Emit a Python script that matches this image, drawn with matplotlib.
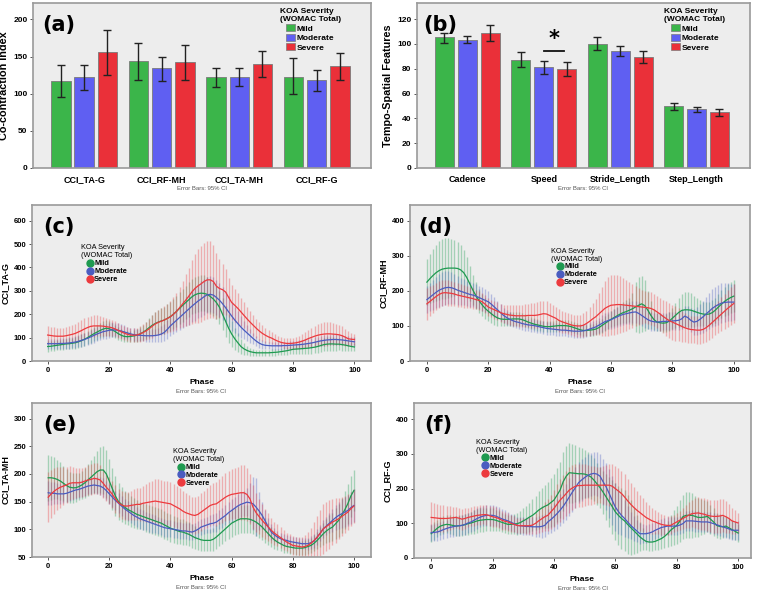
import numpy as np
import matplotlib
matplotlib.use("Agg")
import matplotlib.pyplot as plt
from matplotlib.lines import Line2D
from matplotlib.patches import Patch

plt.rcParams['font.family'] = ['Liberation Sans', 'DejaVu Sans']

# ---------------- data ----------------
groups = ["Mild", "Moderate", "Severe"]

# (a) co-contraction index, means and 95% CI (low, high)
cci_names = ["CCI_TA-G", "CCI_RF-MH", "CCI_TA-MH", "CCI_RF-G"]
cci_mild = [117, 144, 122, 123]
cci_mod = [122, 134, 123, 118]
cci_sev = [156, 142, 140, 137]
cci_mild_lo = [95, 119, 109, 99]
cci_mild_hi = [138, 168, 134, 148]
cci_mod_lo = [105, 117, 111, 104]
cci_mod_hi = [139, 150, 134, 132]
cci_sev_lo = [125, 118, 122, 119]
cci_sev_hi = [186, 165, 157, 155]

# (b) tempo-spatial features
ts_names = ["Cadence", "Speed", "Stride_Length", "Step_Length"]
ts_mild = [105.2, 87.4, 100.0, 49.6]
ts_mod = [103.3, 81.4, 94.1, 47.2]
ts_sev = [108.7, 79.6, 89.5, 44.8]
ts_mild_lo = [100.9, 81.2, 94.9, 46.9]
ts_mild_hi = [109.2, 93.6, 105.2, 52.6]
ts_mod_lo = [100.6, 75.8, 90.1, 45.0]
ts_mod_hi = [106.3, 86.6, 98.2, 49.4]
ts_sev_lo = [102.5, 74.2, 84.7, 42.1]
ts_sev_hi = [114.9, 85.2, 94.4, 47.2]

phase = list(range(101))

# (c) CCI_TA-G over gait phase: mean and 95% CI half-width
tag_mild = [62, 63, 65, 67, 69, 71, 73, 74, 76, 78,
            82, 87, 93, 100, 108, 116, 123, 130, 136, 140,
            138, 133, 126, 117, 110, 105, 104, 105, 107, 110,
            115, 122, 131, 142, 152, 160, 166, 171, 175, 182,
            190, 200, 212, 225, 238, 250, 262, 274, 283, 288,
            290, 289, 285, 276, 265, 250, 230, 200, 170, 140,
            115, 95, 78, 62, 52, 45, 40, 37, 35, 35,
            35, 35, 35, 36, 37, 38, 40, 42, 44, 47,
            50, 51, 52, 53, 54, 55, 57, 59, 62, 66,
            70, 72, 73, 73, 72, 72, 70, 68, 65, 62, 60]
tag_mild_ci = [22, 22, 22, 22, 22, 23, 23, 24, 24, 25,
               26, 27, 28, 29, 30, 31, 32, 33, 34, 34,
               33, 31, 29, 27, 25, 24, 24, 25, 26, 28,
               30, 33, 36, 40, 44, 48, 52, 55, 58, 60,
               62, 64, 66, 68, 70, 72, 74, 75, 76, 77,
               77, 77, 76, 75, 74, 72, 70, 68, 66, 62,
               55, 48, 40, 32, 25, 20, 17, 15, 14, 14,
               14, 14, 14, 14, 14, 14, 15, 16, 17, 18,
               19, 20, 21, 22, 23, 24, 25, 26, 27, 28,
               29, 29, 29, 29, 28, 27, 26, 24, 22, 20, 18]
tag_mod = [74, 74, 74, 74, 75, 75, 76, 77, 79, 81,
           84, 88, 92, 97, 103, 109, 115, 120, 125, 128,
           131, 133, 133, 131, 128, 124, 120, 116, 113, 111,
           110, 109, 108, 108, 108, 109, 111, 115, 122, 135,
           150, 162, 174, 186, 198, 210, 222, 234, 245, 256,
           265, 275, 283, 285, 282, 272, 260, 245, 228, 210,
           192, 175, 160, 145, 132, 120, 108, 96, 85, 76,
           70, 67, 66, 65, 65, 65, 65, 66, 66, 67,
           68, 69, 70, 71, 73, 75, 77, 80, 83, 86,
           88, 90, 91, 92, 92, 91, 90, 88, 86, 84, 82]
tag_mod_ci = [22, 22, 22, 22, 22, 23, 23, 24, 24, 25,
              26, 27, 28, 29, 30, 30, 31, 31, 32, 32,
              32, 32, 31, 30, 29, 28, 27, 26, 26, 25,
              25, 25, 25, 26, 27, 29, 31, 34, 37, 40,
              43, 46, 50, 54, 58, 62, 66, 69, 72, 74,
              76, 77, 77, 77, 76, 75, 73, 71, 69, 66,
              62, 57, 52, 46, 40, 34, 29, 25, 22, 20,
              18, 17, 16, 16, 16, 16, 16, 16, 16, 17,
              17, 18, 18, 19, 19, 20, 20, 21, 21, 22,
              22, 22, 22, 22, 22, 22, 21, 21, 20, 20, 19]
tag_sev = [111, 109, 107, 106, 106, 106, 108, 111, 114, 118,
           124, 130, 137, 143, 148, 150, 150, 150, 149, 147,
           145, 142, 137, 131, 125, 119, 114, 111, 110, 111,
           115, 121, 128, 137, 148, 158, 165, 170, 175, 182,
           189, 200, 212, 228, 244, 260, 277, 295, 310, 321,
           330, 340, 347, 347, 340, 320, 310, 305, 295, 272,
           250, 238, 225, 210, 195, 180, 166, 153, 140, 128,
           118, 110, 103, 98, 91, 85, 80, 77, 75, 75,
           76, 78, 81, 85, 90, 96, 101, 106, 110, 113,
           115, 116, 116, 115, 114, 112, 108, 102, 95, 93, 92]
tag_sev_ci = [38, 38, 38, 37, 36, 36, 36, 37, 38, 40,
              42, 44, 45, 46, 46, 46, 45, 43, 40, 38,
              36, 34, 32, 31, 30, 30, 30, 30, 30, 31,
              33, 36, 40, 44, 48, 52, 55, 58, 60, 62,
              66, 72, 80, 88, 98, 110, 122, 135, 148, 158,
              163, 166, 167, 165, 155, 140, 125, 110, 100, 85,
              75, 70, 65, 60, 56, 52, 48, 44, 40, 37,
              34, 31, 28, 26, 24, 23, 22, 22, 22, 22,
              23, 25, 27, 30, 33, 36, 40, 44, 47, 49,
              50, 50, 49, 48, 46, 44, 40, 36, 32, 28, 25]

# (d) CCI_RF-MH
rfmh_mild = [225, 235, 244, 252, 258, 262, 264, 265, 265, 265,
             264, 260, 252, 238, 220, 202, 186, 172, 160, 150,
             142, 135, 128, 123, 120, 119, 119, 119, 120, 120,
             120, 118, 115, 111, 108, 105, 103, 101, 99, 98,
             98, 99, 100, 101, 101, 101, 100, 98, 95, 92,
             89, 87, 87, 88, 89, 91, 95, 101, 107, 113,
             119, 124, 129, 134, 138, 141, 145, 149, 154, 159,
             163, 158, 145, 130, 118, 111, 109, 108, 109, 114,
             122, 130, 138, 144, 146, 146, 145, 142, 139, 136,
             134, 133, 134, 138, 145, 154, 162, 170, 176, 181, 185]
rfmh_mild_ci = [65, 70, 75, 80, 84, 86, 86, 85, 83, 80,
                76, 72, 66, 58, 50, 43, 38, 34, 32, 30,
                28, 26, 24, 22, 21, 20, 20, 20, 20, 20,
                20, 19, 18, 18, 17, 17, 16, 16, 16, 16,
                16, 16, 16, 16, 16, 16, 16, 16, 16, 16,
                16, 16, 16, 17, 17, 18, 19, 20, 21, 22,
                23, 24, 26, 28, 30, 32, 35, 45, 70, 80,
                80, 72, 55, 40, 30, 25, 24, 24, 25, 27,
                30, 35, 42, 48, 50, 50, 48, 44, 40, 37,
                35, 34, 34, 35, 36, 38, 40, 42, 44, 45, 46]
rfmh_mod = [175, 182, 189, 196, 202, 206, 209, 210, 209, 206,
            202, 199, 196, 193, 190, 188, 185, 181, 177, 173,
            169, 162, 154, 146, 138, 130, 124, 119, 115, 112,
            110, 107, 105, 103, 102, 101, 99, 97, 95, 93,
            92, 91, 90, 89, 88, 88, 87, 86, 85, 85,
            85, 86, 88, 91, 94, 97, 102, 107, 112, 115,
            118, 122, 126, 130, 133, 135, 137, 139, 140, 136,
            130, 124, 118, 114, 112, 111, 112, 113, 113, 114,
            114, 115, 116, 120, 128, 124, 116, 111, 113, 119,
            126, 134, 142, 150, 156, 161, 165, 167, 168, 168, 168]
rfmh_mod_ci = [38, 40, 43, 45, 47, 48, 48, 47, 45, 43,
               41, 39, 37, 36, 35, 34, 34, 33, 33, 33,
               32, 30, 28, 26, 24, 22, 21, 20, 19, 19,
               18, 18, 18, 18, 18, 18, 18, 18, 18, 18,
               18, 18, 18, 18, 18, 18, 18, 18, 18, 18,
               18, 19, 19, 20, 20, 21, 22, 23, 24, 25,
               26, 27, 28, 29, 30, 30, 31, 31, 31, 31,
               30, 29, 28, 27, 26, 26, 25, 25, 25, 25,
               25, 26, 27, 28, 30, 32, 34, 37, 40, 43,
               46, 49, 52, 54, 56, 57, 57, 56, 55, 53, 52]
rfmh_sev = [163, 170, 177, 184, 190, 194, 195, 194, 193, 191,
            188, 186, 184, 182, 180, 178, 175, 173, 169, 162,
            154, 150, 146, 142, 138, 135, 133, 131, 130, 129,
            129, 129, 129, 130, 130, 130, 131, 133, 135, 134,
            130, 126, 122, 116, 112, 109, 106, 103, 101, 100,
            100, 102, 107, 113, 120, 126, 134, 142, 150, 155,
            159, 160, 161, 161, 160, 159, 158, 157, 156, 155,
            154, 153, 152, 150, 146, 140, 134, 127, 121, 115,
            111, 107, 103, 99, 95, 92, 90, 89, 88, 88,
            90, 95, 102, 110, 118, 126, 134, 142, 150, 157, 164]
rfmh_sev_ci = [45, 43, 41, 39, 38, 37, 36, 36, 35, 35,
               34, 33, 32, 31, 30, 29, 28, 27, 26, 25,
               25, 25, 25, 25, 26, 26, 27, 28, 29, 30,
               31, 32, 33, 34, 35, 36, 37, 37, 37, 36,
               35, 34, 33, 32, 31, 30, 30, 30, 30, 31,
               32, 34, 37, 41, 45, 52, 60, 70, 78, 84,
               86, 86, 85, 82, 78, 73, 68, 62, 57, 52,
               48, 46, 46, 46, 46, 46, 47, 48, 49, 50,
               50, 49, 47, 45, 42, 40, 39, 39, 39, 40,
               40, 41, 42, 43, 44, 46, 48, 50, 52, 54, 56]

# (e) CCI_TA-MH
tamh_mild = [193, 193, 192, 190, 187, 183, 179, 176, 175, 175,
             177, 180, 184, 189, 194, 199, 204, 207, 207, 200,
             187, 173, 160, 150, 145, 140, 136, 133, 130, 127,
             125, 123, 121, 119, 117, 115, 113, 111, 108, 105,
             102, 100, 98, 96, 95, 93, 91, 88, 85, 83,
             81, 80, 80, 80, 82, 86, 91, 96, 101, 106,
             111, 114, 117, 119, 119, 119, 118, 116, 113, 109,
             104, 98, 92, 86, 81, 77, 74, 71, 69, 68,
             67, 66, 66, 66, 67, 69, 71, 75, 80, 86,
             92, 97, 101, 104, 110, 116, 125, 135, 146, 160, 170]
tamh_mild_ci = [42, 40, 38, 36, 34, 32, 30, 28, 27, 26,
                25, 26, 27, 29, 31, 34, 38, 42, 44, 43,
                40, 38, 36, 34, 32, 30, 29, 28, 27, 26,
                25, 25, 25, 25, 25, 25, 25, 25, 25, 25,
                25, 24, 24, 23, 23, 22, 22, 21, 21, 20,
                20, 20, 20, 20, 21, 21, 22, 22, 23, 24,
                25, 25, 25, 25, 25, 25, 25, 25, 25, 24,
                23, 22, 20, 18, 16, 15, 14, 13, 12, 12,
                12, 12, 12, 12, 13, 13, 14, 15, 16, 18,
                20, 22, 24, 26, 28, 30, 32, 34, 36, 37, 37]
tamh_mod = [166, 165, 165, 164, 164, 164, 165, 167, 169, 171,
            172, 174, 176, 178, 179, 180, 179, 178, 175, 170,
            164, 158, 152, 147, 142, 137, 133, 129, 125, 122,
            119, 117, 115, 113, 111, 109, 107, 105, 103, 102,
            101, 100, 99, 98, 97, 97, 96, 95, 97, 100,
            104, 106, 108, 110, 111, 113, 117, 121, 125, 130,
            134, 138, 142, 145, 147, 149, 148, 146, 140, 133,
            125, 115, 104, 95, 90, 86, 83, 81, 80, 78,
            77, 76, 75, 74, 74, 74, 76, 79, 86, 93,
            101, 106, 111, 116, 121, 125, 128, 131, 134, 139, 143]
tamh_mod_ci = [22, 21, 20, 19, 18, 17, 16, 16, 16, 16,
               15, 15, 15, 15, 15, 15, 15, 16, 17, 18,
               18, 18, 18, 18, 18, 18, 18, 18, 18, 18,
               18, 18, 17, 17, 17, 16, 16, 16, 16, 15,
               15, 15, 15, 15, 15, 15, 15, 15, 15, 15,
               15, 15, 15, 16, 16, 17, 17, 18, 18, 19,
               20, 20, 21, 22, 23, 25, 35, 48, 52, 35,
               25, 20, 16, 14, 12, 11, 10, 10, 10, 10,
               10, 10, 10, 10, 10, 11, 12, 13, 14, 15,
               16, 17, 18, 20, 22, 24, 26, 27, 28, 29, 30]
tamh_sev = [158, 164, 169, 173, 176, 178, 180, 183, 184, 184,
            184, 185, 187, 189, 190, 192, 191, 189, 183, 176,
            170, 163, 155, 148, 144, 142, 142, 143, 144, 145,
            145, 147, 148, 149, 150, 151, 150, 149, 148, 147,
            146, 143, 140, 137, 133, 130, 128, 126, 125, 127,
            131, 135, 139, 143, 145, 146, 150, 154, 158, 161,
            163, 164, 165, 166, 166, 163, 155, 140, 130, 123,
            116, 110, 104, 98, 93, 89, 85, 81, 77, 74,
            71, 70, 69, 68, 69, 71, 75, 80, 86, 93,
            101, 105, 109, 113, 116, 119, 123, 127, 131, 137, 142]
tamh_sev_ci = [45, 43, 41, 39, 37, 35, 33, 31, 29, 27,
               26, 26, 26, 27, 28, 28, 28, 27, 26, 25,
               25, 25, 25, 25, 25, 25, 26, 27, 28, 29,
               30, 32, 34, 36, 38, 40, 40, 40, 40, 40,
               40, 39, 38, 37, 36, 35, 34, 33, 33, 33,
               34, 35, 36, 37, 38, 40, 41, 42, 43, 44,
               45, 46, 48, 50, 50, 48, 45, 40, 35, 32,
               30, 27, 25, 23, 21, 20, 19, 18, 17, 17,
               17, 17, 18, 19, 21, 24, 28, 33, 38, 42,
               45, 45, 44, 42, 40, 37, 35, 33, 32, 31, 30]

# (f) CCI_RF-G
rfg_mild = [70, 78, 86, 92, 95, 97, 96, 94, 92, 93,
            94, 96, 99, 101, 104, 107, 109, 110, 111, 111,
            111, 109, 106, 103, 100, 97, 97, 98, 99, 102,
            107, 112, 118, 123, 130, 138, 144, 149, 153, 160,
            167, 181, 196, 220, 236, 246, 245, 244, 243, 243,
            242, 239, 234, 225, 214, 203, 190, 176, 162, 148,
            133, 123, 114, 107, 97, 88, 79, 70, 61, 54,
            48, 46, 46, 48, 52, 56, 62, 70, 80, 87,
            94, 106, 119, 123, 123, 123, 120, 117, 117, 118,
            120, 112, 104, 94, 91, 90, 92, 87, 82, 77, 72]
rfg_mild_ci = [25, 25, 25, 25, 25, 26, 27, 28, 29, 30,
               30, 31, 32, 33, 34, 35, 35, 35, 34, 33,
               32, 30, 29, 28, 27, 27, 28, 30, 32, 34,
               36, 39, 42, 46, 50, 54, 58, 62, 66, 70,
               74, 78, 82, 85, 87, 87, 85, 82, 78, 74,
               70, 67, 64, 62, 60, 60, 62, 66, 72, 78,
               82, 86, 88, 88, 85, 78, 68, 55, 42, 32,
               26, 25, 25, 26, 28, 30, 33, 38, 44, 50,
               55, 60, 64, 66, 66, 64, 60, 56, 52, 48,
               45, 42, 40, 37, 35, 32, 30, 28, 27, 26, 25]
rfg_mod = [73, 74, 75, 78, 82, 85, 88, 90, 92, 93,
           94, 97, 101, 104, 109, 114, 118, 121, 123, 123,
           123, 121, 117, 113, 110, 107, 103, 99, 94, 93,
           92, 91, 91, 90, 90, 90, 91, 94, 104, 111,
           119, 128, 138, 149, 162, 176, 190, 203, 217, 225,
           232, 238, 242, 244, 242, 236, 220, 205, 186, 166,
           147, 134, 123, 114, 104, 94, 86, 78, 70, 70,
           70, 72, 75, 80, 84, 88, 90, 92, 92, 92,
           92, 95, 99, 107, 107, 107, 106, 105, 104, 104,
           104, 102, 99, 96, 93, 90, 87, 84, 80, 80, 80]
rfg_mod_ci = [24, 24, 25, 25, 26, 26, 27, 28, 28, 29,
              29, 30, 30, 30, 30, 30, 30, 30, 30, 30,
              30, 30, 29, 28, 27, 26, 25, 25, 25, 25,
              25, 25, 26, 27, 28, 30, 32, 34, 36, 38,
              40, 43, 46, 49, 52, 55, 57, 58, 59, 60,
              60, 61, 62, 62, 63, 64, 66, 68, 70, 70,
              68, 64, 58, 52, 46, 40, 36, 32, 30, 28,
              26, 25, 25, 25, 25, 25, 25, 25, 25, 25,
              25, 26, 27, 28, 29, 30, 30, 30, 30, 30,
              30, 30, 30, 30, 30, 30, 29, 29, 28, 28, 28]
rfg_sev = [117, 116, 115, 114, 114, 114, 115, 116, 117, 115,
           112, 114, 117, 119, 121, 123, 124, 125, 125, 122,
           119, 117, 114, 109, 106, 104, 100, 97, 94, 93,
           93, 93, 93, 95, 100, 107, 113, 119, 123, 133,
           143, 155, 167, 176, 186, 196, 202, 207, 209, 209,
           210, 210, 210, 210, 210, 210, 210, 210, 210, 207,
           200, 193, 186, 176, 165, 155, 146, 138, 131, 124,
           117, 112, 107, 104, 100, 97, 95, 94, 94, 99,
           104, 109, 114, 119, 124, 128, 129, 130, 128, 126,
           123, 121, 120, 120, 121, 123, 119, 114, 107, 104, 101]
rfg_sev_ci = [45, 44, 42, 40, 38, 36, 34, 32, 31, 30,
              30, 29, 28, 28, 28, 28, 28, 28, 29, 29,
              30, 29, 28, 27, 26, 25, 24, 23, 22, 22,
              22, 23, 24, 27, 30, 34, 38, 42, 46, 50,
              54, 58, 62, 64, 65, 66, 65, 64, 63, 62,
              60, 58, 56, 54, 52, 52, 54, 57, 60, 63,
              65, 66, 66, 65, 63, 61, 58, 55, 52, 48,
              45, 42, 38, 35, 32, 30, 28, 27, 26, 25,
              25, 27, 30, 33, 37, 40, 43, 45, 46, 46,
              46, 47, 47, 48, 48, 48, 46, 42, 38, 34, 30]

# ---------------- style ----------------
bar_cols = ["#3bb54a", "#5f5ff2", "#ea3039"]
line_cols = ["#1e9a50", "#4a5cc0", "#ec3a3e"]
bg = "#ededed"
frame = "#9a9a9a"
W, H = 757, 592

fig = plt.figure(figsize=(W / 100, H / 100), dpi=100)


def add_ax(x0, y0, x1, y1):
    ax = fig.add_axes([x0 / W, 1 - y1 / H, (x1 - x0) / W, (y1 - y0) / H])
    ax.set_facecolor(bg)
    for s in ax.spines.values():
        s.set_color(frame)
        s.set_linewidth(1.2)
    ax.tick_params(length=2.5, width=0.7, color="#555555", labelsize=6,
                   pad=1.5)
    return ax


def footer(ax, y):
    ax.text(0.5, y, "Error Bars: 95% CI", transform=ax.transAxes,
            ha="center", va="center", fontsize=4.3, color="#555555")


def bar_panel(ax, names, means, los, his, ylim, yticks, ylabel, tag, tagx,
              legx):
    x = np.arange(len(names))
    offs = [-0.3, 0.0, 0.3]
    for k in range(3):
        m = np.array(means[k])
        err = np.vstack([m - np.array(los[k]), np.array(his[k]) - m])
        ax.bar(x + offs[k], m, width=0.25, color=bar_cols[k],
               edgecolor="#7a7a7a", linewidth=0.6, zorder=2)
        ax.errorbar(x + offs[k], m, yerr=err, fmt="none", ecolor="#222222",
                    elinewidth=1.0, capsize=2.6, capthick=1.0, zorder=3)
    ax.set_xlim(-0.66, 3.7)
    ax.set_ylim(*ylim)
    ax.set_yticks(yticks)
    ax.set_xticks(x)
    ax.set_xticklabels(names, fontsize=6.5, fontweight="bold")
    ax.tick_params(axis="x", length=0, pad=5)
    for lab in ax.get_yticklabels():
        lab.set_fontweight("bold")
        lab.set_fontsize(6)
    ax.set_ylabel(ylabel, fontsize=7.8, fontweight="bold", labelpad=3)
    ax.text(tagx, 0.93, tag, transform=ax.transAxes, ha="center", va="top",
            fontsize=15, fontweight="bold", family="DejaVu Sans")
    handles = [Patch(facecolor=bar_cols[k], edgecolor="#7a7a7a",
                     linewidth=0.5, label=groups[k]) for k in range(3)]
    leg = ax.legend(handles=handles, title="KOA Severity\n(WOMAC Total)",
                    loc="upper center", bbox_to_anchor=(legx, 1.01),
                    frameon=False, fontsize=6, title_fontsize=6,
                    handlelength=1.0, handleheight=0.9, handletextpad=0.2,
                    labelspacing=0.15, borderpad=0.3)
    leg.get_title().set_fontweight("bold")
    for t in leg.get_texts():
        t.set_fontweight("bold")
    footer(ax, -0.125)


def line_panel(ax, series, cis, xlim, ylim, yticks, ylabel, tag, tagx,
               legpos):
    ph = np.array(phase)
    for k in range(3):
        m = np.array(series[k])
        c = np.array(cis[k])
        ax.vlines(ph, m - c, m + c, color=line_cols[k], alpha=0.35,
                  linewidth=1.0, zorder=2)
    for k in range(3):
        ax.plot(ph, series[k], color=line_cols[k], linewidth=0.9, zorder=3)
    ax.set_xlim(*xlim)
    ax.set_ylim(*ylim)
    ax.set_yticks(yticks)
    ax.set_xticks([0, 20, 40, 60, 80, 100])
    for lab in ax.get_xticklabels() + ax.get_yticklabels():
        lab.set_fontweight("bold")
        lab.set_fontsize(5.5)
    ax.set_xlabel("Phase", fontsize=6, fontweight="bold", labelpad=4)
    ax.set_ylabel(ylabel, fontsize=6.5, fontweight="bold", labelpad=3)
    ax.text(tagx, 0.92, tag, transform=ax.transAxes, ha="center", va="top",
            fontsize=15, fontweight="bold", family="DejaVu Sans")
    handles = [Line2D([], [], marker="o", linestyle="none", markersize=5,
                      color=line_cols[k], label=groups[k]) for k in range(3)]
    leg = ax.legend(handles=handles, title="KOA Severity\n(WOMAC Total)",
                    loc="upper left", bbox_to_anchor=legpos, frameon=False,
                    fontsize=5.3, title_fontsize=5.3, handlelength=0.8,
                    handletextpad=0.2, labelspacing=0.1, borderpad=0.2)
    for t in leg.get_texts():
        t.set_fontweight("bold")
    footer(ax, -0.195)


# (a)
ax_a = add_ax(33, 3, 371, 168)
bar_panel(ax_a, cci_names, [cci_mild, cci_mod, cci_sev],
          [cci_mild_lo, cci_mod_lo, cci_sev_lo],
          [cci_mild_hi, cci_mod_hi, cci_sev_hi],
          (0, 222), [0, 50, 100, 150, 200], "Co-contraction Index", "(a)",
          0.077, 0.82)

# (b)
ax_b = add_ax(417, 3, 750, 168)
bar_panel(ax_b, ts_names, [ts_mild, ts_mod, ts_sev],
          [ts_mild_lo, ts_mod_lo, ts_sev_lo],
          [ts_mild_hi, ts_mod_hi, ts_sev_hi],
          (0, 133), [0, 20, 40, 60, 80, 100, 120], "Tempo-Spatial Features",
          "(b)", 0.07, 0.835)
ax_b.plot([1.0, 1.26], [94, 94], color="#111111", linewidth=1.3, zorder=4)
ax_b.text(1.13, 96, "*", ha="center", va="bottom", fontsize=15,
          fontweight="bold", family="DejaVu Sans")

# (c)
ax_c = add_ax(32, 205, 371, 361)
line_panel(ax_c, [tag_mild, tag_mod, tag_sev],
           [tag_mild_ci, tag_mod_ci, tag_sev_ci],
           (-5.1, 105.4), (0, 667), [0, 100, 200, 300, 400, 500, 600],
           "CCI_TA-G", "(c)", 0.08, (0.13, 0.78))

# (d)
ax_d = add_ax(410, 205, 750, 361)
line_panel(ax_d, [rfmh_mild, rfmh_mod, rfmh_sev],
           [rfmh_mild_ci, rfmh_mod_ci, rfmh_sev_ci],
           (-5.5, 105.3), (0, 445), [0, 100, 200, 300, 400],
           "CCI_RF-MH", "(d)", 0.075, (0.40, 0.76))

# (e)
ax_e = add_ax(32, 403, 371, 557)
line_panel(ax_e, [tamh_mild, tamh_mod, tamh_sev],
           [tamh_mild_ci, tamh_mod_ci, tamh_sev_ci],
           (-5.3, 105.6), (50, 328), [50, 100, 150, 200, 250, 300],
           "CCI_TA-MH", "(e)", 0.083, (0.40, 0.74))

# (f)
ax_f = add_ax(414, 403, 751, 558)
line_panel(ax_f, [rfg_mild, rfg_mod, rfg_sev],
           [rfg_mild_ci, rfg_mod_ci, rfg_sev_ci],
           (-5.6, 104.2), (0, 447), [0, 100, 200, 300, 400],
           "CCI_RF-G", "(f)", 0.071, (0.17, 0.80))

fig.savefig("out.png", dpi=100)
